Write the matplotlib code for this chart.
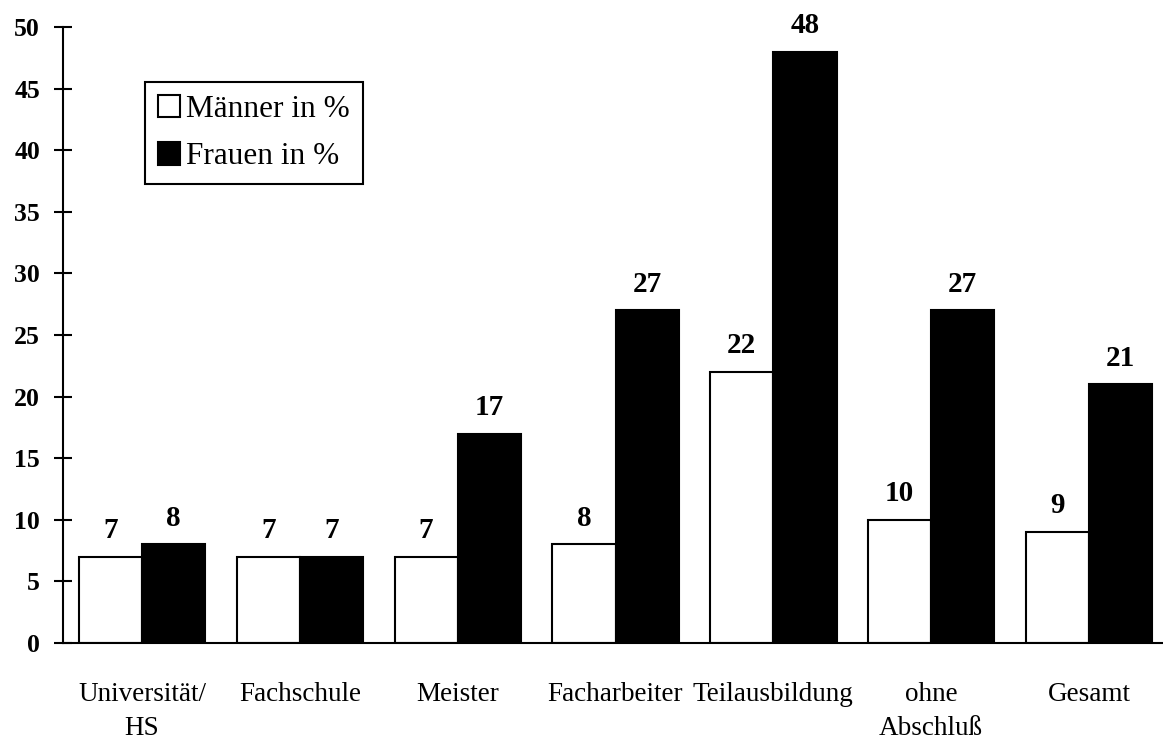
import matplotlib
matplotlib.use("Agg")
import matplotlib.pyplot as plt
from matplotlib.patches import Patch
import numpy as np

categories = ["Universität/\nHS", "Fachschule", "Meister", "Facharbeiter",
              "Teilausbildung", "ohne\nAbschluß", "Gesamt"]
maenner = [7, 7, 7, 8, 22, 10, 9]
frauen = [8, 7, 17, 27, 48, 27, 21]
series_labels = ["Männer in %", "Frauen in %"]
y_ticks = [0, 5, 10, 15, 20, 25, 30, 35, 40, 45, 50]

plt.rcParams["font.family"] = ["Liberation Serif", "DejaVu Serif"]

fig = plt.figure(figsize=(11.63, 7.40), dpi=100)
ax = fig.add_axes([63 / 1163, 1 - 643 / 740, 1105 / 1163, (643 - 27) / 740])

x = np.arange(len(categories))
width = 0.4

bars_m = ax.bar(x - width / 2, maenner, width, color="white",
                edgecolor="black", linewidth=1.5, zorder=2)
bars_f = ax.bar(x + width / 2, frauen, width, color="black",
                edgecolor="black", linewidth=1.5, zorder=2)

# Value labels above each bar.
for bars, values in ((bars_m, maenner), (bars_f, frauen)):
    for rect, v in zip(bars, values):
        ax.annotate(f"{v}", (rect.get_x() + rect.get_width() / 2, v),
                    xytext=(0, 13.5), textcoords="offset points",
                    ha="center", va="baseline", fontsize=21,
                    fontweight="bold")

ax.set_xlim(-0.5, len(categories) - 0.5)
ax.set_ylim(0, 50)
ax.set_yticks(y_ticks)
ax.set_yticklabels([str(t) for t in y_ticks], fontsize=18.5, fontweight="bold")
ax.tick_params(axis="y", direction="inout", length=13, width=1.5, pad=10)

ax.set_xticks(x)
ax.set_xticklabels(categories, fontsize=19.5, linespacing=1.5)
ax.tick_params(axis="x", length=0, pad=28)

for side in ("top", "right"):
    ax.spines[side].set_visible(False)
for side in ("left", "bottom"):
    ax.spines[side].set_linewidth(1.5)

handles = [Patch(facecolor="white", edgecolor="black", linewidth=1.5),
           Patch(facecolor="black", edgecolor="black", linewidth=1.5)]
leg = fig.legend(handles, series_labels, loc="upper left",
                 bbox_to_anchor=(145 / 1163, 1 - 82 / 740),
                 fontsize=22.5, frameon=True, fancybox=False, shadow=False,
                 handlelength=0.72, handleheight=0.72, handletextpad=0.2,
                 labelspacing=0.6, borderpad=0.4, borderaxespad=0)
leg.get_frame().set_edgecolor("black")
leg.get_frame().set_linewidth(1.5)
leg.get_frame().set_alpha(1)

fig.savefig("out.png", dpi=100)
